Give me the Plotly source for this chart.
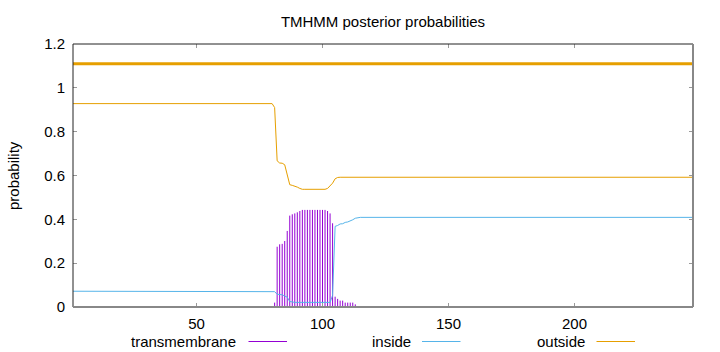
import plotly.graph_objects as go

# ---------------- data ----------------
seq_len = 247
detail_pos = [80, 81, 82, 83, 84, 85, 86, 87, 88, 89, 90, 91, 92, 93, 94, 95, 96, 97,
              98, 99, 100, 101, 102, 103, 104, 105, 106, 107, 108, 109, 110, 111, 112,
              113, 114, 115]
inside_detail = [0.072, 0.070, 0.058, 0.057, 0.056, 0.050, 0.045, 0.025, 0.022, 0.021,
                 0.021, 0.021, 0.021, 0.021, 0.021, 0.021, 0.021, 0.021, 0.021, 0.021,
                 0.021, 0.021, 0.021, 0.021, 0.053, 0.368, 0.372, 0.379, 0.380, 0.386,
                 0.388, 0.392, 0.398, 0.405, 0.408, 0.409]
outside_detail = [0.928, 0.910, 0.667, 0.657, 0.656, 0.649, 0.608, 0.558, 0.555, 0.552,
                  0.547, 0.541, 0.537, 0.537, 0.537, 0.537, 0.537, 0.537, 0.537, 0.537,
                  0.537, 0.537, 0.541, 0.552, 0.565, 0.585, 0.591, 0.592, 0.592, 0.592,
                  0.592, 0.592, 0.592, 0.592, 0.592, 0.592]
inside_start, inside_end = 0.072, 0.409
outside_start, outside_end = 0.928, 0.592

tm_pos = [81, 82, 83, 84, 85, 86, 87, 88, 89, 90, 91, 92, 93, 94, 95, 96, 97, 98, 99,
          100, 101, 102, 103, 104, 105, 106, 107, 108, 109, 110, 111, 112, 113]
tm_vals = [0.020, 0.275, 0.286, 0.288, 0.301, 0.347, 0.417, 0.423, 0.427, 0.432, 0.438,
           0.443, 0.443, 0.443, 0.443, 0.443, 0.443, 0.443, 0.443, 0.443, 0.443, 0.438,
           0.427, 0.382, 0.047, 0.037, 0.029, 0.029, 0.020, 0.020, 0.020, 0.020, 0.012]

pred_level = 1.11  # predicted topology line (outside)

x_ticks = [50, 100, 150, 200]
y_ticks = [0, 0.2, 0.4, 0.6, 0.8, 1.0, 1.2]
y_ticklabels = ["0", "0.2", "0.4", "0.6", "0.8", "1", "1.2"]
legend_names = ["transmembrane", "inside", "outside"]

C_TM, C_IN, C_OUT = "#9400d3", "#56b4e9", "#e69f00"
FONT = "Liberation Sans, Arial, sans-serif"

# ---------------- build traces ----------------
imp_x, imp_y = [], []
for p, v in zip(tm_pos, tm_vals):
    imp_x += [p, p, None]
    imp_y += [0, v, None]

in_x = [1] + detail_pos + [seq_len]
in_y = [inside_start] + inside_detail + [inside_end]
out_x = [1] + detail_pos + [seq_len]
out_y = [outside_start] + outside_detail + [outside_end]

fig = go.Figure()
fig.add_trace(go.Scatter(x=imp_x, y=imp_y, mode="lines",
                         line=dict(color=C_TM, width=1), showlegend=False,
                         name=legend_names[0]))
fig.add_trace(go.Scatter(x=in_x, y=in_y, mode="lines",
                         line=dict(color=C_IN, width=1), showlegend=False,
                         name=legend_names[1]))
fig.add_trace(go.Scatter(x=out_x, y=out_y, mode="lines",
                         line=dict(color=C_OUT, width=1), showlegend=False,
                         name=legend_names[2]))
fig.add_trace(go.Scatter(x=[1, seq_len], y=[pred_level, pred_level], mode="lines",
                         line=dict(color=C_OUT, width=3), showlegend=False))

# ---------------- layout ----------------
L, R, T, B = 73, 27, 44, 45
W, H = 720, 352
pw, ph = W - L - R, H - T - B

fig.update_layout(
    width=W, height=H,
    margin=dict(l=L, r=R, t=T, b=B, pad=0),
    paper_bgcolor="white", plot_bgcolor="white",
    font=dict(family=FONT, size=15, color="black"),
    title=dict(text="TMHMM posterior probabilities", x=0.5, xref="paper",
               y=1 - 22 / H, yanchor="middle", xanchor="center",
               font=dict(family=FONT, size=15, color="black")),
    xaxis=dict(range=[1, seq_len], tickvals=x_ticks, ticks="inside", ticklen=4,
               tickcolor="#999999", mirror="ticks", showline=False, showgrid=False,
               zeroline=False, ticklabelstandoff=6,
               tickfont=dict(family=FONT, size=15, color="black")),
    yaxis=dict(range=[0, 1.2], tickvals=y_ticks, ticktext=y_ticklabels,
               ticks="inside", ticklen=4, tickcolor="#999999", mirror="ticks",
               showline=False, showgrid=False, zeroline=False, ticklabelstandoff=7,
               tickfont=dict(family=FONT, size=15, color="black")),
    showlegend=False,
)

# plot border (gnuplot style)
fig.add_shape(type="line", xref="paper", yref="paper", x0=0, x1=1, y0=1, y1=1,
              line=dict(color="#222222", width=1))
fig.add_shape(type="line", xref="paper", yref="paper", x0=0, x1=0, y0=0, y1=1,
              line=dict(color="#222222", width=1))
fig.add_shape(type="line", xref="paper", yref="paper", x0=0, x1=1, y0=0, y1=0,
              line=dict(color="#888888", width=2))
fig.add_shape(type="line", xref="paper", yref="paper", x0=1, x1=1, y0=0, y1=1,
              line=dict(color="#888888", width=2))

# y axis title
fig.add_annotation(text="probability", xref="paper", yref="paper", x=0, y=0.5,
                   xshift=-59.5, textangle=-90, showarrow=False,
                   xanchor="center", yanchor="middle",
                   font=dict(family=FONT, size=15, color="black"))

# custom gnuplot-like legend below the plot: text then sample line
leg_y = (T + ph - 341.5) / ph
text_right = [238.5, 412.5, 586.5]
sample_start = [248.5, 422.0, 596.5]
for name, tr, ss, col in zip(legend_names, text_right, sample_start, [C_TM, C_IN, C_OUT]):
    fig.add_annotation(text=name, xref="paper", yref="paper",
                       x=(tr - L) / pw, y=leg_y, xanchor="right", yanchor="middle",
                       showarrow=False, font=dict(family=FONT, size=15, color="black"))
    fig.add_shape(type="line", xref="paper", yref="paper",
                  x0=(ss - L) / pw, x1=(ss + 38.5 - L) / pw, y0=leg_y, y1=leg_y,
                  line=dict(color=col, width=1))

fig.write_html("out.html")
